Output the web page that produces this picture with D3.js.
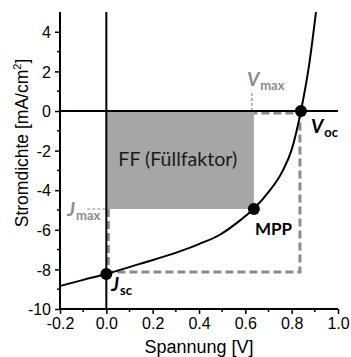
<!DOCTYPE html>
<html>
<head>
<meta charset="utf-8">
<script src="https://cdn.jsdelivr.net/npm/d3@7"></script>
<style>
  html, body { margin: 0; padding: 0; background: #fff; }
  svg { display: block; }
  .tick text { font-family: "Liberation Sans", Arial, sans-serif; font-size: 16px; fill: #000; }
  .tick line { stroke: #000; stroke-width: 1.5; }
  .ann { font-family: Lato, "Open Sans", sans-serif; font-weight: bold; }
</style>
</head>
<body>
<div id="chart"></div>
<script>
// J-V curve of the solar cell
const voltage = [-0.2, -0.1, 0.0, 0.145, 0.32, 0.4, 0.49, 0.58, 0.635, 0.7, 0.76, 0.8, 0.84, 0.875, 0.905];
const current = [-8.84, -8.53, -8.23, -7.72, -7.08, -6.72, -6.25, -5.5, -4.95, -4.1, -3.05, -1.95, 0.0, 2.3, 5.0];

// characteristic points
const vOc = 0.84;
const jSc = -8.23;
const vMax = 0.637;
const jMax = -4.95;

// axes
const xDomain = [-0.2, 1.0];
const yDomain = [-10, 5];
const xTicks = [-0.2, 0.0, 0.2, 0.4, 0.6, 0.8, 1.0];
const xMinor = [-0.1, 0.1, 0.3, 0.5, 0.7, 0.9];
const yTicks = [-10, -8, -6, -4, -2, 0, 2, 4];
const yMinor = [-9, -7, -5, -3, -1, 1, 3];

const W = 351, H = 357;
const M = { left: 60, right: 13, top: 12, bottom: 48 };

const svg = d3.select('#chart').append('svg')
  .attr('width', W)
  .attr('height', H);

const x = d3.scaleLinear().domain(xDomain).range([M.left, W - M.right]);
const y = d3.scaleLinear().domain(yDomain).range([H - M.bottom, M.top]);

svg.append('clipPath').attr('id', 'plot')
  .append('rect')
  .attr('x', M.left).attr('y', M.top)
  .attr('width', x.range()[1] - M.left)
  .attr('height', y.range()[0] - M.top);

const gray = '#8c8c8c';

// dashed box (0,0) -> (Voc, Jsc), slightly inset so it shows beside the zero lines
svg.append('path')
  .attr('d', `M${x(0) + 2},${y(0) + 2} V${y(jSc) - 2} H${x(vOc) - 1} V${y(0) + 2} Z`)
  .attr('fill', 'none')
  .attr('stroke', gray)
  .attr('stroke-width', 3)
  .attr('stroke-dasharray', '8,4');

// fill factor area
svg.append('rect')
  .attr('x', x(0))
  .attr('y', y(0))
  .attr('width', x(vMax) - x(0))
  .attr('height', y(jMax) - y(0))
  .attr('fill', '#a6a6a6');

// thin guides to Vmax / Jmax labels
svg.append('line')
  .attr('x1', x(vMax) - 2).attr('x2', x(vMax) - 2)
  .attr('y1', y(0) - 18).attr('y2', y(0))
  .attr('stroke', gray).attr('stroke-width', 1.2).attr('stroke-dasharray', '3,2');
svg.append('line')
  .attr('x1', x(0) - 19).attr('x2', x(0))
  .attr('y1', y(jMax)).attr('y2', y(jMax))
  .attr('stroke', gray).attr('stroke-width', 1.2).attr('stroke-dasharray', '3,2');

// zero lines
svg.append('line')
  .attr('x1', x(0)).attr('x2', x(0))
  .attr('y1', y.range()[1]).attr('y2', y.range()[0])
  .attr('stroke', '#000').attr('stroke-width', 2);
svg.append('line')
  .attr('x1', x.range()[0]).attr('x2', x.range()[1])
  .attr('y1', y(0)).attr('y2', y(0))
  .attr('stroke', '#000').attr('stroke-width', 2);

// axes
const xAxis = svg.append('g')
  .attr('transform', `translate(0,${y.range()[0]})`)
  .call(d3.axisBottom(x).tickValues(xTicks).tickFormat(d => d.toFixed(1)).tickSize(5).tickSizeOuter(0).tickPadding(4));
xAxis.select('.domain').remove();
xAxis.selectAll('.minor').data(xMinor).enter().append('line')
  .attr('x1', d => x(d)).attr('x2', d => x(d))
  .attr('y1', 0).attr('y2', 3)
  .attr('stroke', '#000').attr('stroke-width', 1.5);

const yAxis = svg.append('g')
  .attr('transform', `translate(${x.range()[0]},0)`)
  .call(d3.axisLeft(y).tickValues(yTicks).tickFormat(d => String(d)).tickSize(5).tickSizeOuter(0).tickPadding(4));
yAxis.select('.domain').remove();
yAxis.selectAll('.minor').data(yMinor).enter().append('line')
  .attr('x1', 0).attr('x2', -3)
  .attr('y1', d => y(d)).attr('y2', d => y(d))
  .attr('stroke', '#000').attr('stroke-width', 1.5);
yAxis.selectAll('.tick text').attr('dy', '0.36em');

svg.append('line')
  .attr('x1', x.range()[0]).attr('x2', x.range()[1])
  .attr('y1', y.range()[0]).attr('y2', y.range()[0])
  .attr('stroke', '#000').attr('stroke-width', 2);
svg.append('line')
  .attr('x1', x.range()[0]).attr('x2', x.range()[0])
  .attr('y1', y.range()[1]).attr('y2', y.range()[0] + 1)
  .attr('stroke', '#000').attr('stroke-width', 2);

// axis titles
svg.append('text')
  .attr('x', (x.range()[0] + x.range()[1]) / 2)
  .attr('y', 353)
  .attr('text-anchor', 'middle')
  .style('font-family', '"Liberation Sans", Arial, sans-serif')
  .style('font-size', '18px')
  .text('Spannung [V]');

const yTitle = svg.append('text')
  .attr('transform', 'translate(28,143) rotate(-90)')
  .attr('text-anchor', 'middle')
  .style('font-family', '"Liberation Sans", Arial, sans-serif')
  .style('font-size', '17.5px');
yTitle.append('tspan').text('Stromdichte [mA/cm');
yTitle.append('tspan').attr('dy', -7).style('font-size', '11px').text('2');
yTitle.append('tspan').attr('dy', 7).text(']');

// J-V curve
const points = voltage.map((v, i) => [v, current[i]]);
svg.append('path')
  .datum(points)
  .attr('clip-path', 'url(#plot)')
  .attr('fill', 'none')
  .attr('stroke', '#000')
  .attr('stroke-width', 2)
  .attr('d', d3.line().x(d => x(d[0])).y(d => y(d[1])).curve(d3.curveMonotoneX));

// characteristic points
svg.selectAll('.pt')
  .data([[0, jSc], [vMax, jMax], [vOc, 0]])
  .enter().append('circle')
  .attr('cx', d => x(d[0]))
  .attr('cy', d => y(d[1]))
  .attr('r', 6)
  .attr('fill', '#000');

// labels
svg.append('text')
  .attr('class', 'ann')
  .attr('x', x(0) + 12)
  .attr('y', 166)
  .attr('textLength', 119)
  .attr('lengthAdjust', 'spacingAndGlyphs')
  .style('font-weight', 'normal')
  .style('font-size', '18.5px')
  .attr('fill', '#1a1a1a')
  .text('FF (Füllfaktor)');

svg.append('text')
  .attr('class', 'ann')
  .attr('x', x(vMax) + 1)
  .attr('y', y(jMax) + 26)
  .style('font-size', '17px')
  .text('MPP');

function subLabel(xp, yp, main, sub, color) {
  const t = svg.append('text').attr('class', 'ann').attr('x', xp).attr('y', yp).attr('fill', color);
  t.append('tspan').style('font-style', 'italic').style('font-size', '19px').text(main);
  t.append('tspan').attr('dy', 4).attr('dx', 1).style('font-size', '13px').text(sub);
}
subLabel(x(vMax) - 7, 86, 'V', 'max', gray);
subLabel(x(vOc) + 10, 133, 'V', 'oc', '#000');
subLabel(x(0) - 39, 216, 'J', 'max', gray);
subLabel(x(0) + 5, 291, 'J', 'sc', '#000');
</script>
</body>
</html>
